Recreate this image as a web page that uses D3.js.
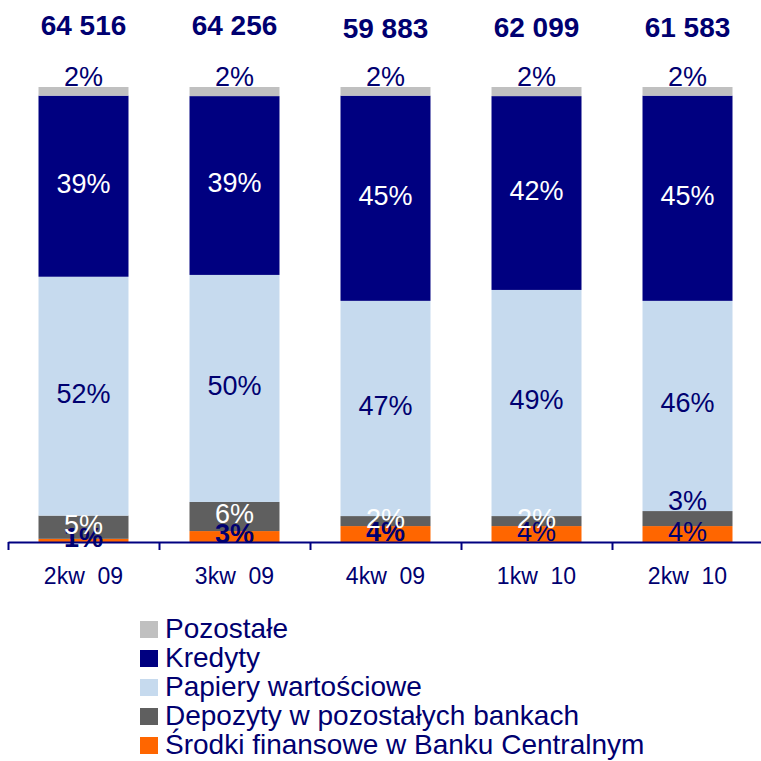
<!DOCTYPE html>
<html>
<head>
<meta charset="utf-8">
<script src="https://cdn.jsdelivr.net/npm/d3@7"></script>
<style>
  html, body { margin: 0; padding: 0; background: #fff; }
  svg { display: block; font-family: "Liberation Sans", Arial, sans-serif; }
</style>
</head>
<body>
<script>
// ** data
const categories = ["2kw  09", "3kw  09", "4kw  09", "1kw  10", "2kw  10"];
const totals = ["64 516", "64 256", "59 883", "62 099", "61 583"];
const totalValues = [64516, 64256, 59883, 62099, 61583];

// shares in %, bottom to top of each bar
const srodki = [0.7, 2.4, 3.5, 3.5, 3.5];
const depozyty = [5.1, 6.4, 2.2, 2.2, 3.3];
const papiery = [52.5, 49.9, 47.3, 49.7, 46.2];
const kredyty = [39.8, 39.3, 45.1, 42.6, 45.1];
const pozostale = [1.9, 2.0, 1.9, 2.0, 1.9];

// printed labels
const srodkiLabels = ["1%", "3%", "4%", "4%", "4%"];
const depozytyLabels = ["5%", "6%", "2%", "2%", "3%"];
const papieryLabels = ["52%", "50%", "47%", "49%", "46%"];
const kredytyLabels = ["39%", "39%", "45%", "42%", "45%"];
const pozostaleLabels = ["2%", "2%", "2%", "2%", "2%"];

const series = [
  { key: "srodki", name: "Środki finansowe w Banku Centralnym", values: srodki, labels: srodkiLabels, color: "#FF6600", text: "#000070" },
  { key: "depozyty", name: "Depozyty w pozostałych bankach", values: depozyty, labels: depozytyLabels, color: "#5F5F5F", text: "#ffffff" },
  { key: "papiery", name: "Papiery wartościowe", values: papiery, labels: papieryLabels, color: "#C6DAEE", text: "#000070" },
  { key: "kredyty", name: "Kredyty", values: kredyty, labels: kredytyLabels, color: "#000080", text: "#ffffff" },
  { key: "pozostale", name: "Pozostałe", values: pozostale, labels: pozostaleLabels, color: "#C0C0C0", text: "#000070" }
];

const navyText = "#000070";

// ** layout
const width = 761, height = 761;
const axisY = 542, topY = 87;

const svg = d3.select("body").append("svg")
  .attr("width", width)
  .attr("height", height);

const x = d3.scaleBand()
  .domain(categories)
  .range([8, 763])
  .paddingInner(0.404)
  .paddingOuter(0.202);

const xEdges = d3.scaleLinear().domain([0, categories.length]).range([8, 763]);

const y = d3.scaleLinear().domain([0, 100]).range([axisY, topY]);

// table for the stack
const table = categories.map((c, i) => {
  const row = { cat: c };
  series.forEach(s => row[s.key] = s.values[i]);
  return row;
});
const stacked = d3.stack().keys(series.map(s => s.key))(table);

// ** bars
const layers = svg.append("g").attr("class", "bars")
  .selectAll("g")
  .data(stacked)
  .join("g")
  .attr("fill", (d, i) => series[i].color);

layers.selectAll("rect")
  .data(d => d)
  .join("rect")
  .attr("x", d => x(d.data.cat))
  .attr("width", x.bandwidth())
  .attr("y", d => y(d[1]))
  .attr("height", d => y(d[0]) - y(d[1]));

// ** axis
const axis = svg.append("g")
  .attr("transform", `translate(0,${axisY})`)
  .call(d3.axisBottom(xEdges)
    .tickValues(d3.range(categories.length + 1))
    .tickSize(8)
    .tickSizeOuter(0)
    .tickFormat(""));
axis.select(".domain").attr("stroke", "#000080").attr("stroke-width", 2);
axis.selectAll(".tick line").attr("stroke", "#000080").attr("stroke-width", 2);

svg.append("g").selectAll("text")
  .data(categories)
  .join("text")
  .attr("x", d => x(d) + x.bandwidth() / 2)
  .attr("y", 584)
  .attr("text-anchor", "middle")
  .attr("font-size", 23)
  .attr("fill", navyText)
  .style("white-space", "pre")
  .text(d => d);

// ** segment labels
const labelG = svg.append("g").attr("class", "labels");
stacked.forEach((layer, si) => {
  const s = series[si];
  layer.forEach((d, i) => {
    let yy, fill = s.text, weight = "normal";
    if (s.key === "pozostale") {
      yy = y(d[1]) - 1;
    } else if (s.key === "depozyty" && i === 4) {
      // label sits above the thin segment
      yy = y(d[1]) - 1;
      fill = navyText;
    } else {
      yy = (y(d[0]) + y(d[1])) / 2 + 6.5;
    }
    if (s.key === "srodki" && i < 3) weight = "bold";
    labelG.append("text")
      .attr("x", x(d.data.cat) + x.bandwidth() / 2)
      .attr("y", yy)
      .attr("text-anchor", "middle")
      .attr("font-size", 27)
      .attr("font-weight", weight)
      .attr("fill", fill)
      .text(s.labels[i]);
  });
});

// ** totals
const yTotal = d3.scaleLinear().domain([59883, 64516]).range([38, 35]);
svg.append("g").selectAll("text")
  .data(totals)
  .join("text")
  .attr("x", (d, i) => x(categories[i]) + x.bandwidth() / 2)
  .attr("y", (d, i) => yTotal(totalValues[i]))
  .attr("text-anchor", "middle")
  .attr("font-size", 28)
  .attr("font-weight", "bold")
  .attr("fill", navyText)
  .text(d => d);

// ** legend
const legendOrder = series.slice().reverse();
const legend = svg.append("g").attr("class", "legend")
  .selectAll("g")
  .data(legendOrder)
  .join("g")
  .attr("transform", (d, i) => `translate(140,${638 + i * 29})`);

legend.append("rect")
  .attr("x", 0)
  .attr("y", -17)
  .attr("width", 18)
  .attr("height", 17)
  .attr("fill", d => d.color);

legend.append("text")
  .attr("x", 25)
  .attr("y", 0)
  .attr("font-size", 28)
  .attr("fill", navyText)
  .text(d => d.name);
</script>
</body>
</html>
